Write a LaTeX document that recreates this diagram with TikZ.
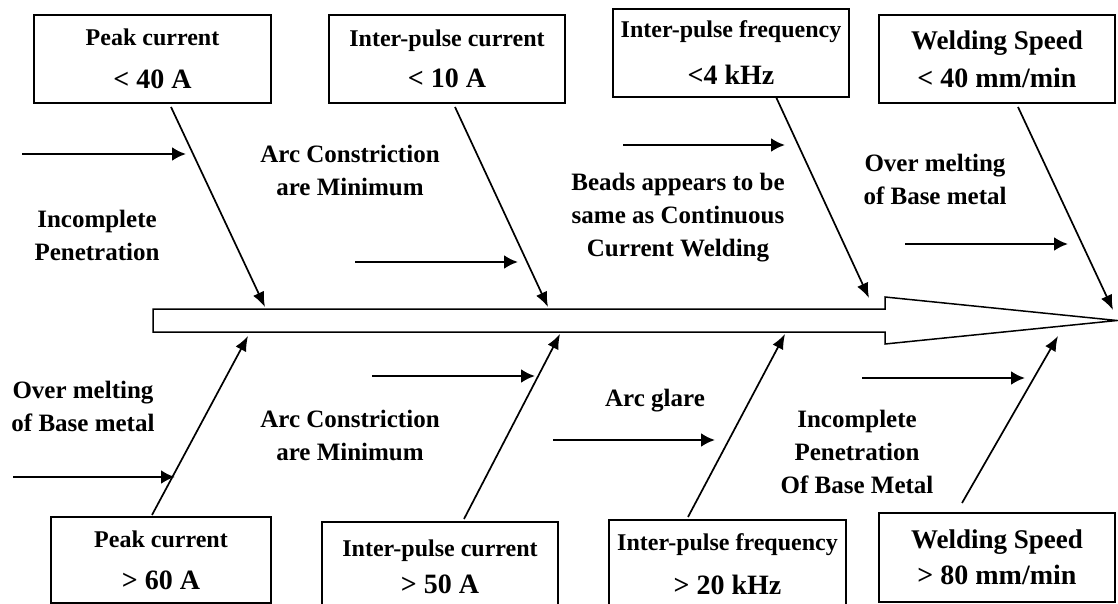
\documentclass[tikz,border=0pt]{standalone}
\usepackage{fontspec}
\setmainfont{Liberation Serif}
\usetikzlibrary{arrows.meta}
\newcommand\vallbl[1]{{\fontsize{28}{28}\selectfont #1}}
\newcommand\wsplbl[1]{{\fontsize{27}{27}\selectfont #1}}
\begin{document}
\begin{tikzpicture}[x=1pt,y=-1pt,
  boxnode/.style={draw, line width=1.5pt, minimum width=236pt, minimum height=88pt,
    align=center, inner sep=0pt, font=\fontsize{24}{#1}\selectfont\bfseries},
  boxnode/.default=42,
  lbl/.style={align=center, inner sep=0pt, font=\fontsize{25}{33}\selectfont\bfseries},
  bone/.style={line width=1.7pt, -{Latex[length=15pt,width=12pt]}},
  harrow/.style={line width=2.6pt, -{Latex[length=14pt,width=14pt]}},
  spine/.style={line width=1.5pt, fill=white}
]
\useasboundingbox (0,0) rectangle (1118,604);

% spine
\draw[spine] (153,309) -- (885,309) -- (885,297) -- (1117,320.5) -- (885,344) -- (885,332) -- (153,332) -- cycle;

% top boxes
\node[boxnode=43, minimum width=237pt] (b1) at (152.5,59) {Peak current\\\vallbl{< 40 A}};
\node[boxnode=41] (b2) at (447,59) {Inter-pulse current\\\vallbl{< 10 A}};
\node[boxnode=47] (b3) at (731,53) {Inter-pulse frequency\\\vallbl{<4 kHz}};
\node[boxnode=38] (b4) at (997,59) {\wsplbl{Welding Speed}\\\vallbl{< 40 mm/min}};

% bottom boxes
\node[boxnode=42, minimum width=220pt, minimum height=86pt] (b5) at (161,560) {Peak current\\\vallbl{> 60 A}};
\node[boxnode=37, minimum height=90pt] (b6) at (440,567) {Inter-pulse current\\\vallbl{> 50 A}};
\node[boxnode=44, minimum width=237pt, minimum height=88pt] (b7) at (727.5,564) {Inter-pulse frequency\\\vallbl{> 20 kHz}};
\node[boxnode=36, minimum height=89pt] (b8) at (997,557.5) {\wsplbl{Welding Speed}\\\vallbl{> 80 mm/min}};

% bone end points
\coordinate (s1) at (171,107);  \coordinate (e1) at (265,307);
\coordinate (s2) at (455,107);  \coordinate (e2) at (548,307);
\coordinate (s3) at (776,97);   \coordinate (e3) at (869,298);
\coordinate (s4) at (1018,107); \coordinate (e4) at (1113,310);
\coordinate (s5) at (152,515);  \coordinate (e5) at (248,336);
\coordinate (s6) at (464,519);  \coordinate (e6) at (560,334);
\coordinate (s7) at (688,517);  \coordinate (e7) at (785,334);
\coordinate (s8) at (962,503);  \coordinate (e8) at (1058,336);

\draw[bone] (s1) -- (e1);
\draw[bone] (s2) -- (e2);
\draw[bone] (s3) -- (e3);
\draw[bone] (s4) -- (e4);
\draw[bone] (s5) -- (e5);
\draw[bone] (s6) -- (e6);
\draw[bone] (s7) -- (e7);
\draw[bone] (s8) -- (e8);

% horizontal arrows
\coordinate (h1a) at (22,154);  \coordinate (h1b) at (186,154);
\coordinate (h2a) at (355,262); \coordinate (h2b) at (518,262);
\coordinate (h3a) at (623,145); \coordinate (h3b) at (785,145);
\coordinate (h4a) at (905,244); \coordinate (h4b) at (1068,244);
\coordinate (h5a) at (13,477);  \coordinate (h5b) at (175,477);
\coordinate (h6a) at (372,376); \coordinate (h6b) at (535,376);
\coordinate (h7a) at (553,440); \coordinate (h7b) at (715,440);
\coordinate (h8a) at (862,378); \coordinate (h8b) at (1025,378);

\draw[harrow] (h1a) -- (h1b);
\draw[harrow] (h2a) -- (h2b);
\draw[harrow] (h3a) -- (h3b);
\draw[harrow] (h4a) -- (h4b);
\draw[harrow] (h5a) -- (h5b);
\draw[harrow] (h6a) -- (h6b);
\draw[harrow] (h7a) -- (h7b);
\draw[harrow] (h8a) -- (h8b);

% labels
\node[lbl] (inc1) at (97,235) {Incomplete\\Penetration};
\node[lbl] (arc1) at (350,170) {Arc Constriction\\are Minimum};
\node[lbl] (beads) at (678,218) {Beads appears to be\\same as Continuous\\Current Welding};
\node[lbl] (over1) at (935,179) {Over melting\\of Base metal};
\node[lbl] (over2) at (83,406) {Over melting\\of Base metal};
\node[lbl] (arc2) at (350,435) {Arc Constriction\\are Minimum};
\node[lbl] (glare) at (655,401) {Arc glare};
\node[lbl] (inc2) at (857,452) {Incomplete\\Penetration\\Of Base Metal};
\end{tikzpicture}
\end{document}
